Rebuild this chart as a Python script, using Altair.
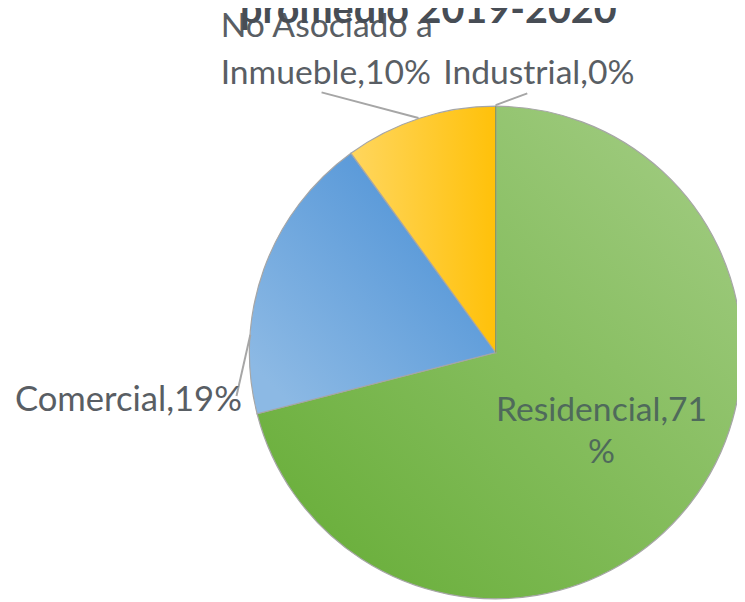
import altair as alt
import pandas as pd

categories = ["Residencial", "Comercial", "No Asociado a Inmueble", "Industrial"]
values = [71, 19, 10, 0]
order = [1, 2, 3, 4]
title_text = "promedio 2019-2020"

df = pd.DataFrame({"category": categories, "value": values, "order": order})

W, H = 737, 594
CX, CY, R = 493, 345, 249

gradients = {
    "Residencial": alt.LinearGradient(gradient="linear", x1=0.95, y1=0.1, x2=0.15, y2=0.95,
                                       stops=[alt.GradientStop(color="#a0cb80", offset=0),
                                              alt.GradientStop(color="#6aaf3b", offset=1)]),
    "Comercial": alt.LinearGradient(gradient="linear", x1=0.9, y1=0.1, x2=0.1, y2=0.9,
                                     stops=[alt.GradientStop(color="#4c91d6", offset=0),
                                            alt.GradientStop(color="#8cb9e4", offset=1)]),
    "No Asociado a Inmueble": alt.LinearGradient(gradient="linear", x1=1, y1=0.5, x2=0, y2=0.5,
                                                  stops=[alt.GradientStop(color="#ffc10a", offset=0),
                                                         alt.GradientStop(color="#ffd65e", offset=1)]),
    "Industrial": alt.LinearGradient(gradient="linear", x1=0, y1=0, x2=1, y2=1,
                                      stops=[alt.GradientStop(color="#a5a5a5", offset=0),
                                             alt.GradientStop(color="#a5a5a5", offset=1)]),
}

base = (
    alt.Chart(df)
    .transform_window(cum="sum(value)", sort=[alt.SortField("order")], frame=[None, 0])
    .transform_calculate(start="datum.cum - datum.value")
)

theta_scale = alt.Scale(domain=[0, 100], range=[0, 6.283185307])

layers = []
for cat in categories:
    stroke_col = "#8a9a5b" if cat == "Industrial" else "#a6a6a6"
    layers.append(
        base.transform_filter(alt.datum.category == cat)
        .mark_arc(color=gradients[cat], stroke=stroke_col, strokeWidth=1.2, outerRadius=R)
        .encode(
            theta=alt.Theta("start:Q", scale=theta_scale),
            theta2="cum:Q",
            x=alt.value(CX),
            y=alt.value(CY),
        )
    )

def rule(x1, y1, x2, y2):
    return alt.Chart(df.head(1)).mark_rule(color="#a6a6a6", strokeWidth=2).encode(
        x=alt.value(x1), y=alt.value(y1), x2=alt.value(x2), y2=alt.value(y2)
    )

leaders = [
    rule(317, 82, 415, 108),
    rule(525, 83, 493, 95),
    rule(231, 389, 245, 327),
]

FONT = "Lato"
GRAY = "#595e64"

def text(t, x, y, align="left", size=34, color=GRAY, weight="normal"):
    return alt.Chart(df.head(1)).mark_text(
        text=t, align=align, baseline="alphabetic", font=FONT, fontSize=size,
        color=color, fontWeight=weight
    ).encode(x=alt.value(x), y=alt.value(y))

res_label = f"{categories[0]},{values[0]}"
labels = [
    text(res_label, 600, 414, align="center", color="#4f6a5b"),
    text("%", 600, 457, align="center", color="#4f6a5b"),
    text(f"{categories[1]},{values[1]}%", 7, 404, size=35),
    text("No Asociado a", 215, 26),
    text(f"Inmueble,{values[2]}%", 215, 74),
    text(f"{categories[3]},{values[3]}%", 440, 74),
]

title = text(title_text, 425, 12, align="center", size=40, color="#474d55", weight="bold")

chart = alt.layer(*layers, *leaders, *labels, title).properties(
    width=W, height=H, padding=0, autosize="none"
).configure_view(stroke=None)

chart.save("out.html", embed_options={"renderer": "svg", "actions": False})
